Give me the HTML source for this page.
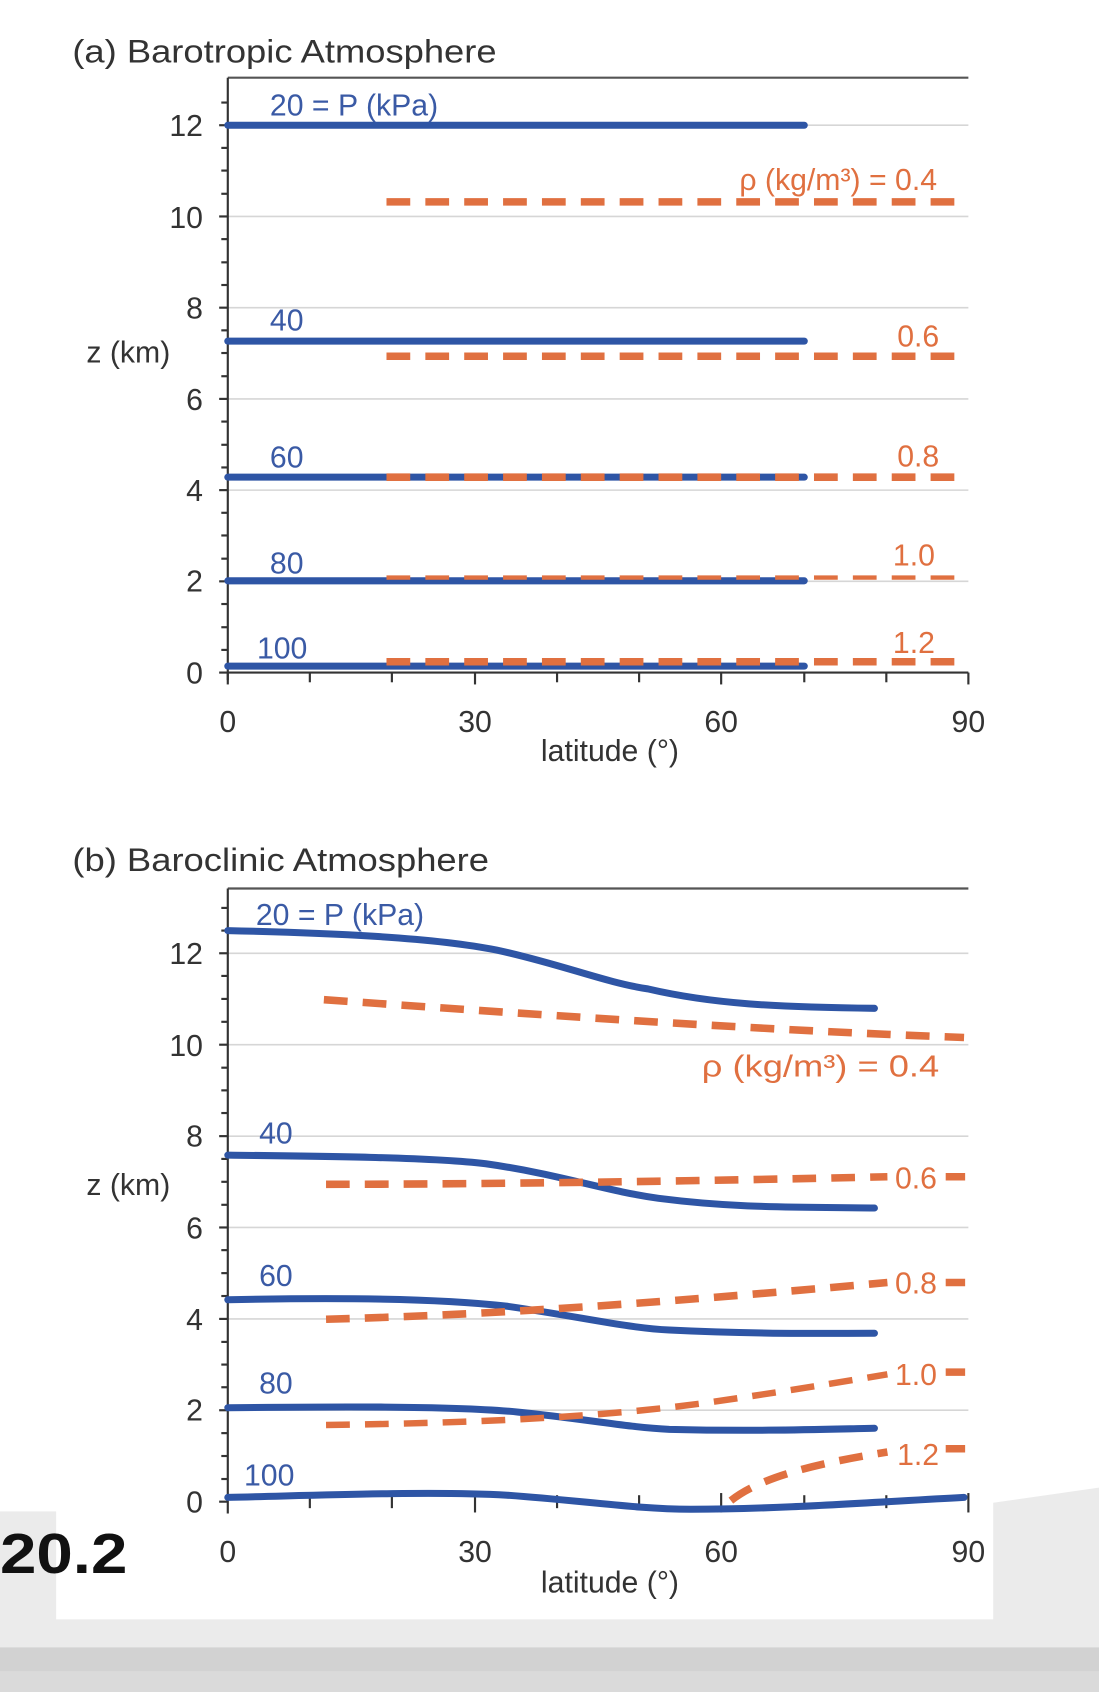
<!DOCTYPE html>
<html><head><meta charset="utf-8"><style>
html,body{margin:0;padding:0;background:#fff;width:1099px;height:1692px;overflow:hidden}
text{font-family:"Liberation Sans",sans-serif}
</style></head><body>
<svg width="1099" height="1692" viewBox="0 0 1099 1692" xmlns="http://www.w3.org/2000/svg">
<g transform="scale(1.07957)">
<rect x="0" y="0" width="1018" height="1568" fill="#fff"/>
<rect x="0" y="1400" width="52" height="130" fill="#ebebeb"/>
<polygon points="920,1392 1018,1378 1018,1530 920,1530" fill="#ebebeb"/>
<rect x="0" y="1500" width="1018" height="30" fill="#ebebeb"/>
<rect x="0" y="1526" width="1018" height="42" fill="#d2d2d2"/>
<rect x="0" y="1548" width="1018" height="20" fill="#dadada"/>

<!-- ===== Panel A ===== -->
<text x="67" y="58" font-size="30" fill="#333" textLength="393" lengthAdjust="spacingAndGlyphs">(a) Barotropic Atmosphere</text>
<g stroke="#d6d6d6" stroke-width="1.5">
<line x1="211" y1="116" x2="897" y2="116"/><line x1="211" y1="200.5" x2="897" y2="200.5"/>
<line x1="211" y1="285" x2="897" y2="285"/><line x1="211" y1="369.5" x2="897" y2="369.5"/>
<line x1="211" y1="454" x2="897" y2="454"/><line x1="211" y1="538.5" x2="897" y2="538.5"/>
</g>
<line x1="211" y1="72" x2="897" y2="72" stroke="#555" stroke-width="2"/>
<line x1="211" y1="72" x2="211" y2="630" stroke="#333" stroke-width="2"/>
<line x1="211" y1="623" x2="897" y2="623" stroke="#333" stroke-width="2"/>
<g stroke="#333" stroke-width="2">
<line x1="203" y1="623" x2="211" y2="623"/><line x1="205" y1="602" x2="211" y2="602"/><line x1="205" y1="581" x2="211" y2="581"/><line x1="205" y1="559.5" x2="211" y2="559.5"/>
<line x1="203" y1="538.5" x2="211" y2="538.5"/><line x1="205" y1="517.5" x2="211" y2="517.5"/><line x1="205" y1="496" x2="211" y2="496"/><line x1="205" y1="475" x2="211" y2="475"/>
<line x1="203" y1="454" x2="211" y2="454"/><line x1="205" y1="433" x2="211" y2="433"/><line x1="205" y1="412" x2="211" y2="412"/><line x1="205" y1="390.5" x2="211" y2="390.5"/>
<line x1="203" y1="369.5" x2="211" y2="369.5"/><line x1="205" y1="348.5" x2="211" y2="348.5"/><line x1="205" y1="327" x2="211" y2="327"/><line x1="205" y1="306" x2="211" y2="306"/>
<line x1="203" y1="285" x2="211" y2="285"/><line x1="205" y1="264" x2="211" y2="264"/><line x1="205" y1="243" x2="211" y2="243"/><line x1="205" y1="221.5" x2="211" y2="221.5"/>
<line x1="203" y1="200.5" x2="211" y2="200.5"/><line x1="205" y1="179.5" x2="211" y2="179.5"/><line x1="205" y1="158" x2="211" y2="158"/><line x1="205" y1="137" x2="211" y2="137"/>
<line x1="203" y1="116" x2="211" y2="116"/><line x1="205" y1="95" x2="211" y2="95"/>
<line x1="211" y1="623" x2="211" y2="634"/><line x1="287" y1="623" x2="287" y2="632"/><line x1="363" y1="623" x2="363" y2="632"/><line x1="440" y1="623" x2="440" y2="634"/>
<line x1="516" y1="623" x2="516" y2="632"/><line x1="592" y1="623" x2="592" y2="632"/><line x1="668" y1="623" x2="668" y2="634"/><line x1="745" y1="623" x2="745" y2="632"/>
<line x1="821" y1="623" x2="821" y2="632"/><line x1="897" y1="623" x2="897" y2="634"/>
</g>
<g font-size="28" fill="#333" text-anchor="end">
<text x="188" y="633">0</text><text x="188" y="548">2</text><text x="188" y="464">4</text>
<text x="188" y="380">6</text><text x="188" y="295">8</text><text x="188" y="211">10</text><text x="188" y="126">12</text>
</g>
<g font-size="28" fill="#333" text-anchor="middle">
<text x="211" y="678">0</text><text x="440" y="678">30</text><text x="668" y="678">60</text><text x="897" y="678">90</text>
<text x="565" y="705">latitude (°)</text>
</g>
<text x="80" y="336" font-size="28" fill="#333">z (km)</text>
<g stroke="#2e55a5" stroke-width="6.5" stroke-linecap="round">
<line x1="211" y1="116" x2="745" y2="116"/><line x1="211" y1="316" x2="745" y2="316"/>
<line x1="211" y1="442" x2="745" y2="442"/><line x1="211" y1="538" x2="745" y2="538"/>
<line x1="211" y1="617" x2="745" y2="617"/>
</g>
<g stroke="#e07040" stroke-width="7" stroke-dasharray="22,14">
<line x1="358" y1="187" x2="884" y2="187"/><line x1="358" y1="330" x2="884" y2="330"/>
<line x1="358" y1="442" x2="884" y2="442"/><line x1="358" y1="535" x2="884" y2="535" stroke-width="4"/>
<line x1="358" y1="613" x2="884" y2="613"/>
</g>
<g font-size="28" fill="#3a5aa5">
<text x="250" y="107">20 = P (kPa)</text><text x="250" y="306">40</text><text x="250" y="433">60</text>
<text x="250" y="531">80</text><text x="238" y="610">100</text>
</g>
<g font-size="28" fill="#e07040" text-anchor="end">
<text x="868" y="176">ρ (kg/m³) = 0.4</text><text x="870" y="321">0.6</text><text x="870" y="432">0.8</text>
<text x="866" y="524">1.0</text><text x="866" y="605">1.2</text>
</g>

<!-- ===== Panel B ===== -->
<text x="67" y="807" font-size="30" fill="#333" textLength="386" lengthAdjust="spacingAndGlyphs">(b) Baroclinic Atmosphere</text>
<g stroke="#d6d6d6" stroke-width="1.5">
<line x1="211" y1="883" x2="897" y2="883"/><line x1="211" y1="967.7" x2="897" y2="967.7"/>
<line x1="211" y1="1052.4" x2="897" y2="1052.4"/><line x1="211" y1="1137" x2="897" y2="1137"/>
<line x1="211" y1="1221.7" x2="897" y2="1221.7"/><line x1="211" y1="1306.3" x2="897" y2="1306.3"/>
</g>
<line x1="211" y1="823" x2="897" y2="823" stroke="#555" stroke-width="2"/>
<line x1="211" y1="823" x2="211" y2="1402" stroke="#333" stroke-width="2"/>
<g stroke="#333" stroke-width="2">
<line x1="203" y1="1391" x2="211" y2="1391"/><line x1="205" y1="1370" x2="211" y2="1370"/><line x1="205" y1="1348.7" x2="211" y2="1348.7"/><line x1="205" y1="1327.5" x2="211" y2="1327.5"/>
<line x1="203" y1="1306.3" x2="211" y2="1306.3"/><line x1="205" y1="1285" x2="211" y2="1285"/><line x1="205" y1="1264" x2="211" y2="1264"/><line x1="205" y1="1243" x2="211" y2="1243"/>
<line x1="203" y1="1221.7" x2="211" y2="1221.7"/><line x1="205" y1="1200.5" x2="211" y2="1200.5"/><line x1="205" y1="1179.3" x2="211" y2="1179.3"/><line x1="205" y1="1158" x2="211" y2="1158"/>
<line x1="203" y1="1137" x2="211" y2="1137"/><line x1="205" y1="1116" x2="211" y2="1116"/><line x1="205" y1="1094.7" x2="211" y2="1094.7"/><line x1="205" y1="1073.5" x2="211" y2="1073.5"/>
<line x1="203" y1="1052.4" x2="211" y2="1052.4"/><line x1="205" y1="1031" x2="211" y2="1031"/><line x1="205" y1="1010" x2="211" y2="1010"/><line x1="205" y1="989" x2="211" y2="989"/>
<line x1="203" y1="967.7" x2="211" y2="967.7"/><line x1="205" y1="946.5" x2="211" y2="946.5"/><line x1="205" y1="925.3" x2="211" y2="925.3"/><line x1="205" y1="904" x2="211" y2="904"/>
<line x1="203" y1="883" x2="211" y2="883"/><line x1="205" y1="862" x2="211" y2="862"/><line x1="205" y1="841" x2="211" y2="841"/>
<line x1="287" y1="1385" x2="287" y2="1397"/><line x1="363" y1="1385" x2="363" y2="1397"/><line x1="440" y1="1383" x2="440" y2="1401"/>
<line x1="516" y1="1385" x2="516" y2="1397"/><line x1="592" y1="1385" x2="592" y2="1397"/><line x1="668" y1="1383" x2="668" y2="1401"/><line x1="745" y1="1385" x2="745" y2="1397"/>
<line x1="821" y1="1385" x2="821" y2="1397"/><line x1="897" y1="1383" x2="897" y2="1401"/>
</g>
<g font-size="28" fill="#333" text-anchor="end">
<text x="188" y="1401">0</text><text x="188" y="1316">2</text><text x="188" y="1232">4</text>
<text x="188" y="1147">6</text><text x="188" y="1062">8</text><text x="188" y="978">10</text><text x="188" y="893">12</text>
</g>
<g font-size="28" fill="#333" text-anchor="middle">
<text x="211" y="1447">0</text><text x="440" y="1447">30</text><text x="668" y="1447">60</text><text x="897" y="1447">90</text>
<text x="565" y="1475">latitude (°)</text>
</g>
<text x="80" y="1107" font-size="28" fill="#333">z (km)</text>
<text x="0" y="1457" font-size="52" font-weight="bold" fill="#111" textLength="118" lengthAdjust="spacingAndGlyphs">20.2</text>
<g stroke="#2e55a5" stroke-width="6.5" stroke-linecap="round" fill="none">
<path d="M211,862 C300,864 400,868 460,880 C520,893 560,910 600,916 C660,930 720,933 810,934"/>
<path d="M211,1070 C300,1071 400,1072 450,1078 C520,1088 560,1103 610,1110 C680,1119 730,1118 810,1119"/>
<path d="M211,1204 C300,1202 400,1202 470,1210 C540,1220 580,1230 620,1232 C700,1236 760,1235 810,1235"/>
<path d="M211,1304 C300,1303 420,1302 480,1308 C540,1314 580,1322 620,1324 C700,1326 760,1324 810,1323"/>
<path d="M211,1387 C300,1385 400,1381 470,1385 C540,1390 590,1398 640,1398 C720,1398 800,1392 893,1387"/>
</g>
<g stroke="#e07040" stroke-width="7" stroke-dasharray="22,14" fill="none">
<path d="M300,926 C500,940 700,954 893,961"/>
<path d="M302,1097 C450,1097 650,1094 822,1090"/>
<path d="M302,1222 C450,1218 600,1208 822,1188"/>
<path d="M302,1320 C450,1318 560,1312 650,1300 C720,1290 780,1280 822,1273" stroke-width="6"/>
<path d="M677,1390 C700,1372 740,1358 822,1345"/>
</g>
<g stroke="#e07040" stroke-width="7">
<line x1="876" y1="1090" x2="894" y2="1090"/><line x1="876" y1="1188" x2="894" y2="1188"/>
<line x1="876" y1="1271" x2="894" y2="1271"/><line x1="876" y1="1342" x2="894" y2="1342"/>
</g>
<g font-size="28" fill="#3a5aa5">
<text x="237" y="857">20 = P (kPa)</text><text x="240" y="1059">40</text><text x="240" y="1191">60</text>
<text x="240" y="1291">80</text><text x="226" y="1376">100</text>
</g>
<g font-size="28" fill="#e07040">
<text x="650" y="997" textLength="220" lengthAdjust="spacingAndGlyphs">ρ (kg/m³) = 0.4</text>
<text x="829" y="1101">0.6</text><text x="829" y="1198">0.8</text>
<text x="829" y="1283">1.0</text><text x="831" y="1357">1.2</text>
</g>
</g>
</svg>
</body></html>
